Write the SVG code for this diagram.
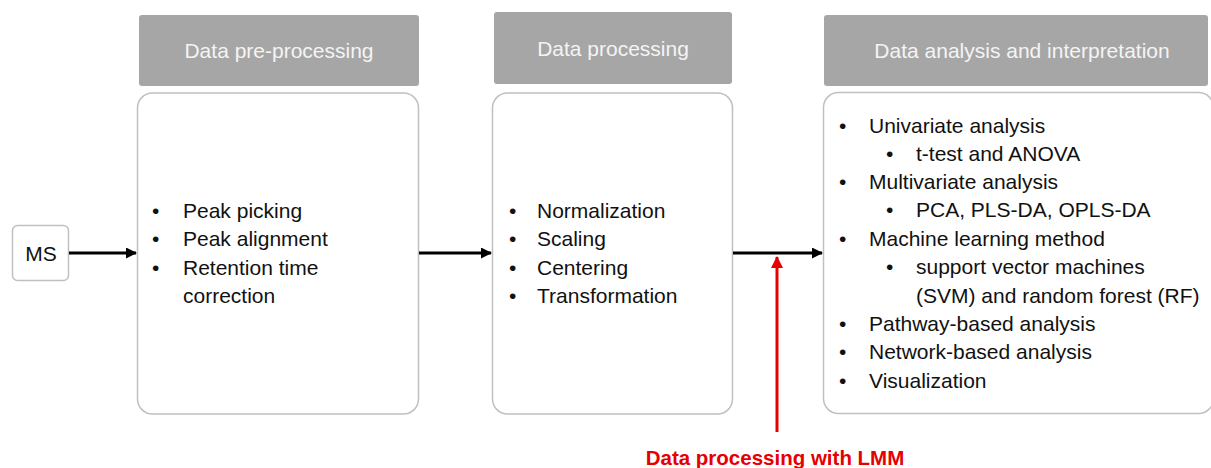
<svg xmlns="http://www.w3.org/2000/svg" width="1211" height="468" viewBox="0 0 1211 468">
<style>
.hdr{fill:#a6a6a6;}
.hdrt{fill:#f4f4f4;font-family:"Liberation Sans",Arial,sans-serif;font-size:21px;text-anchor:middle;}
.box{fill:#ffffff;stroke:#c0c0c0;stroke-width:1.5;}
.t{fill:#111111;font-family:"Liberation Sans",Arial,sans-serif;font-size:21px;}
.conn{stroke:#000000;stroke-width:3;fill:none;}
.red{stroke:#e60000;stroke-width:3;fill:none;}
.redt{fill:#e60000;font-family:"Liberation Sans",Arial,sans-serif;font-size:20.5px;font-weight:bold;text-anchor:middle;}
</style>
<defs>
<marker id="ah" markerWidth="11" markerHeight="11" refX="10" refY="5.5" orient="auto" markerUnits="userSpaceOnUse">
<path d="M0,0 L11,5.5 L0,11 Z" fill="#000000"/>
</marker>
<marker id="ahr" markerWidth="12" markerHeight="12" refX="11" refY="6" orient="auto" markerUnits="userSpaceOnUse">
<path d="M0,0 L12,6 L0,12 Z" fill="#e60000"/>
</marker>
</defs>
<rect width="1211" height="468" fill="#ffffff"/>

<g id="ms">
<rect class="box" x="12.5" y="225.5" width="56" height="55" rx="5"/>
<text class="t" x="41" y="261" text-anchor="middle">MS</text>
</g>

<g id="preprocessing">
<rect class="hdr" x="139" y="15" width="280" height="71" rx="3"/>
<text class="hdrt" x="279" y="58">Data pre-processing</text>
<rect class="box" x="137.5" y="93" width="281" height="321" rx="15"/>
<text class="t" x="152" y="218">•</text><text class="t" x="183" y="218">Peak picking</text>
<text class="t" x="152" y="246">•</text><text class="t" x="183" y="246">Peak alignment</text>
<text class="t" x="152" y="275">•</text><text class="t" x="183" y="275">Retention time</text>
<text class="t" x="183" y="303">correction</text>
</g>

<g id="processing">
<rect class="hdr" x="494" y="12" width="238" height="72" rx="3"/>
<text class="hdrt" x="613" y="56">Data processing</text>
<rect class="box" x="492.5" y="93" width="240" height="321" rx="15"/>
<text class="t" x="509" y="218">•</text><text class="t" x="537" y="218">Normalization</text>
<text class="t" x="509" y="246">•</text><text class="t" x="537" y="246">Scaling</text>
<text class="t" x="509" y="275">•</text><text class="t" x="537" y="275">Centering</text>
<text class="t" x="509" y="303">•</text><text class="t" x="537" y="303">Transformation</text>
</g>

<g id="analysis">
<rect class="hdr" x="824" y="15" width="384" height="71" rx="3"/>
<text class="hdrt" x="1022" y="58">Data analysis and interpretation</text>
<rect class="box" x="823.5" y="92.5" width="390" height="321" rx="15"/>
<text class="t" x="839" y="133">•</text><text class="t" x="869" y="133">Univariate analysis</text>
<text class="t" x="886" y="161">•</text><text class="t" x="916" y="161">t-test and ANOVA</text>
<text class="t" x="839" y="189">•</text><text class="t" x="869" y="189">Multivariate analysis</text>
<text class="t" x="886" y="217">•</text><text class="t" x="916" y="217">PCA, PLS-DA, OPLS-DA</text>
<text class="t" x="839" y="246">•</text><text class="t" x="869" y="246">Machine learning method</text>
<text class="t" x="886" y="274">•</text><text class="t" x="916" y="274">support vector machines</text>
<text class="t" x="916" y="303">(SVM) and random forest (RF)</text>
<text class="t" x="839" y="331">•</text><text class="t" x="869" y="331">Pathway-based analysis</text>
<text class="t" x="839" y="359">•</text><text class="t" x="869" y="359">Network-based analysis</text>
<text class="t" x="839" y="388">•</text><text class="t" x="869" y="388">Visualization</text>
</g>

<g id="lmm-label">
<text class="redt" x="775" y="465">Data processing with LMM</text>
</g>

<g id="connectors">
<line class="conn" x1="69" y1="253" x2="136" y2="253" marker-end="url(#ah)"/>
<line class="conn" x1="419" y1="253" x2="491" y2="253" marker-end="url(#ah)"/>
<line class="conn" x1="733" y1="253" x2="822" y2="253" marker-end="url(#ah)"/>
<line class="red" x1="777" y1="432" x2="777" y2="257" marker-end="url(#ahr)"/>
</g>
</svg>
